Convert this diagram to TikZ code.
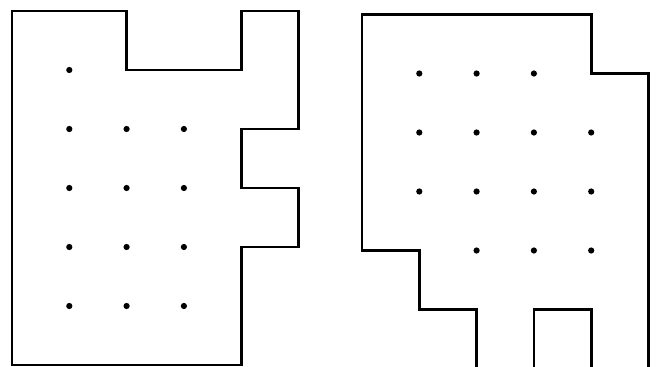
\documentclass[tikz,border=0pt]{standalone}
\tikzset{
    outline/.style={line width=2.8pt, line join=miter},
    gridpt/.style={circle, fill, inner sep=2.2pt}
}
\begin{document}
\begin{tikzpicture}[x=57.3pt, y=-59pt]
    \useasboundingbox (0pt,0pt) rectangle (657pt,-367pt);

    % Left region
    \begin{scope}[shift={(12pt,-11pt)}]
    \draw[outline] (0,0) -- (2,0) -- (2,1) -- (4,1) -- (4,0) -- (5,0) -- (5,2)
        -- (4,2) -- (4,3) -- (5,3) -- (5,4) -- (4,4) -- (4,6) -- (0,6) -- cycle;

    % Lattice points
    \node (a11) at (1,1) [gridpt] {};
    \node (a12) at (1,2) [gridpt] {};
    \node (a22) at (2,2) [gridpt] {};
    \node (a32) at (3,2) [gridpt] {};
    \node (a13) at (1,3) [gridpt] {};
    \node (a23) at (2,3) [gridpt] {};
    \node (a33) at (3,3) [gridpt] {};
    \node (a14) at (1,4) [gridpt] {};
    \node (a24) at (2,4) [gridpt] {};
    \node (a34) at (3,4) [gridpt] {};
    \node (a15) at (1,5) [gridpt] {};
    \node (a25) at (2,5) [gridpt] {};
    \node (a35) at (3,5) [gridpt] {};
    \end{scope}

    % Right region (bottom runs off the page)
    \begin{scope}[shift={(362pt,-14.5pt)}]
    \draw[outline] (0,0) -- (4,0) -- (4,1) -- (5,1) -- (5,6) -- (4,6) -- (4,5)
        -- (3,5) -- (3,6) -- (2,6) -- (2,5) -- (1,5) -- (1,4) -- (0,4) -- cycle;

    % Lattice points
    \node (b11) at (1,1) [gridpt] {};
    \node (b21) at (2,1) [gridpt] {};
    \node (b31) at (3,1) [gridpt] {};
    \node (b12) at (1,2) [gridpt] {};
    \node (b22) at (2,2) [gridpt] {};
    \node (b32) at (3,2) [gridpt] {};
    \node (b42) at (4,2) [gridpt] {};
    \node (b13) at (1,3) [gridpt] {};
    \node (b23) at (2,3) [gridpt] {};
    \node (b33) at (3,3) [gridpt] {};
    \node (b43) at (4,3) [gridpt] {};
    \node (b24) at (2,4) [gridpt] {};
    \node (b34) at (3,4) [gridpt] {};
    \node (b44) at (4,4) [gridpt] {};
    \end{scope}
\end{tikzpicture}
\end{document}
